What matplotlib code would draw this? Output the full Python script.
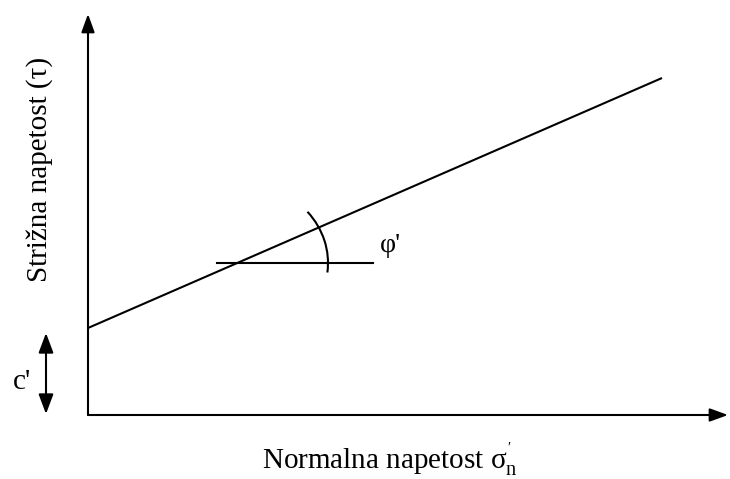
import numpy as np
import matplotlib
matplotlib.use("Agg")
import matplotlib.pyplot as plt
from matplotlib.patches import Arc

plt.rcParams['font.family'] = ['Liberation Serif', 'DejaVu Serif']
plt.rcParams['mathtext.fontset'] = 'custom'
plt.rcParams['mathtext.rm'] = 'Liberation Serif'
plt.rcParams['mathtext.it'] = 'Liberation Serif'

# Mohr-Coulomb envelope (schematic units)
sigma = [0, 574]
tau = [87, 337]
# short horizontal reference line through the envelope
ref_x = [129, 285]
ref_y = [152, 152]
# angle arc
arc_center = (149, 152)
arc_theta = (-6, 36)
cohesion = 87

fig = plt.figure(figsize=(7.3, 4.79), dpi=100)
ax = fig.add_axes([0, 0, 1, 1])
ax.set_xlim(-88, 642)
ax.set_ylim(-64, 415)
ax.axis('off')

lw = 1.5
head = '-|>,head_length=1.1,head_width=0.4'
# axes with arrows
ax.annotate('', xy=(640, 0), xytext=(0, 0),
            arrowprops=dict(arrowstyle=head, color='black', lw=lw, shrinkA=0, shrinkB=0))
ax.annotate('', xy=(0, 401), xytext=(0, 0),
            arrowprops=dict(arrowstyle=head, color='black', lw=lw, shrinkA=0, shrinkB=0))

ax.plot(sigma, tau, color='black', lw=lw, solid_capstyle='butt')
ax.plot(ref_x, ref_y, color='black', lw=lw)
ax.add_patch(Arc(arc_center, 182, 162, theta1=arc_theta[0], theta2=arc_theta[1], color='black', lw=lw))

# cohesion arrow
ax.annotate('', xy=(-42, cohesion - 5), xytext=(-42, 1),
            arrowprops=dict(arrowstyle='<|-|>,head_length=1.2,head_width=0.45', color='black', lw=lw, shrinkA=0, shrinkB=0))

ax.text(-66, 33, "c'", fontsize=21, ha='center', va='center')
ax.text(302, 170, "φ'", fontsize=20, ha='center', va='center')
ax.text(-48, 246, "Strižna napetost (τ)", fontsize=21, rotation=90, ha='center', va='center')
ax.text(302, -45, r"Normalna napetost $\sigma^{'}_{n}$", fontsize=21, ha='center', va='center')

fig.savefig('out.png', dpi=100)
